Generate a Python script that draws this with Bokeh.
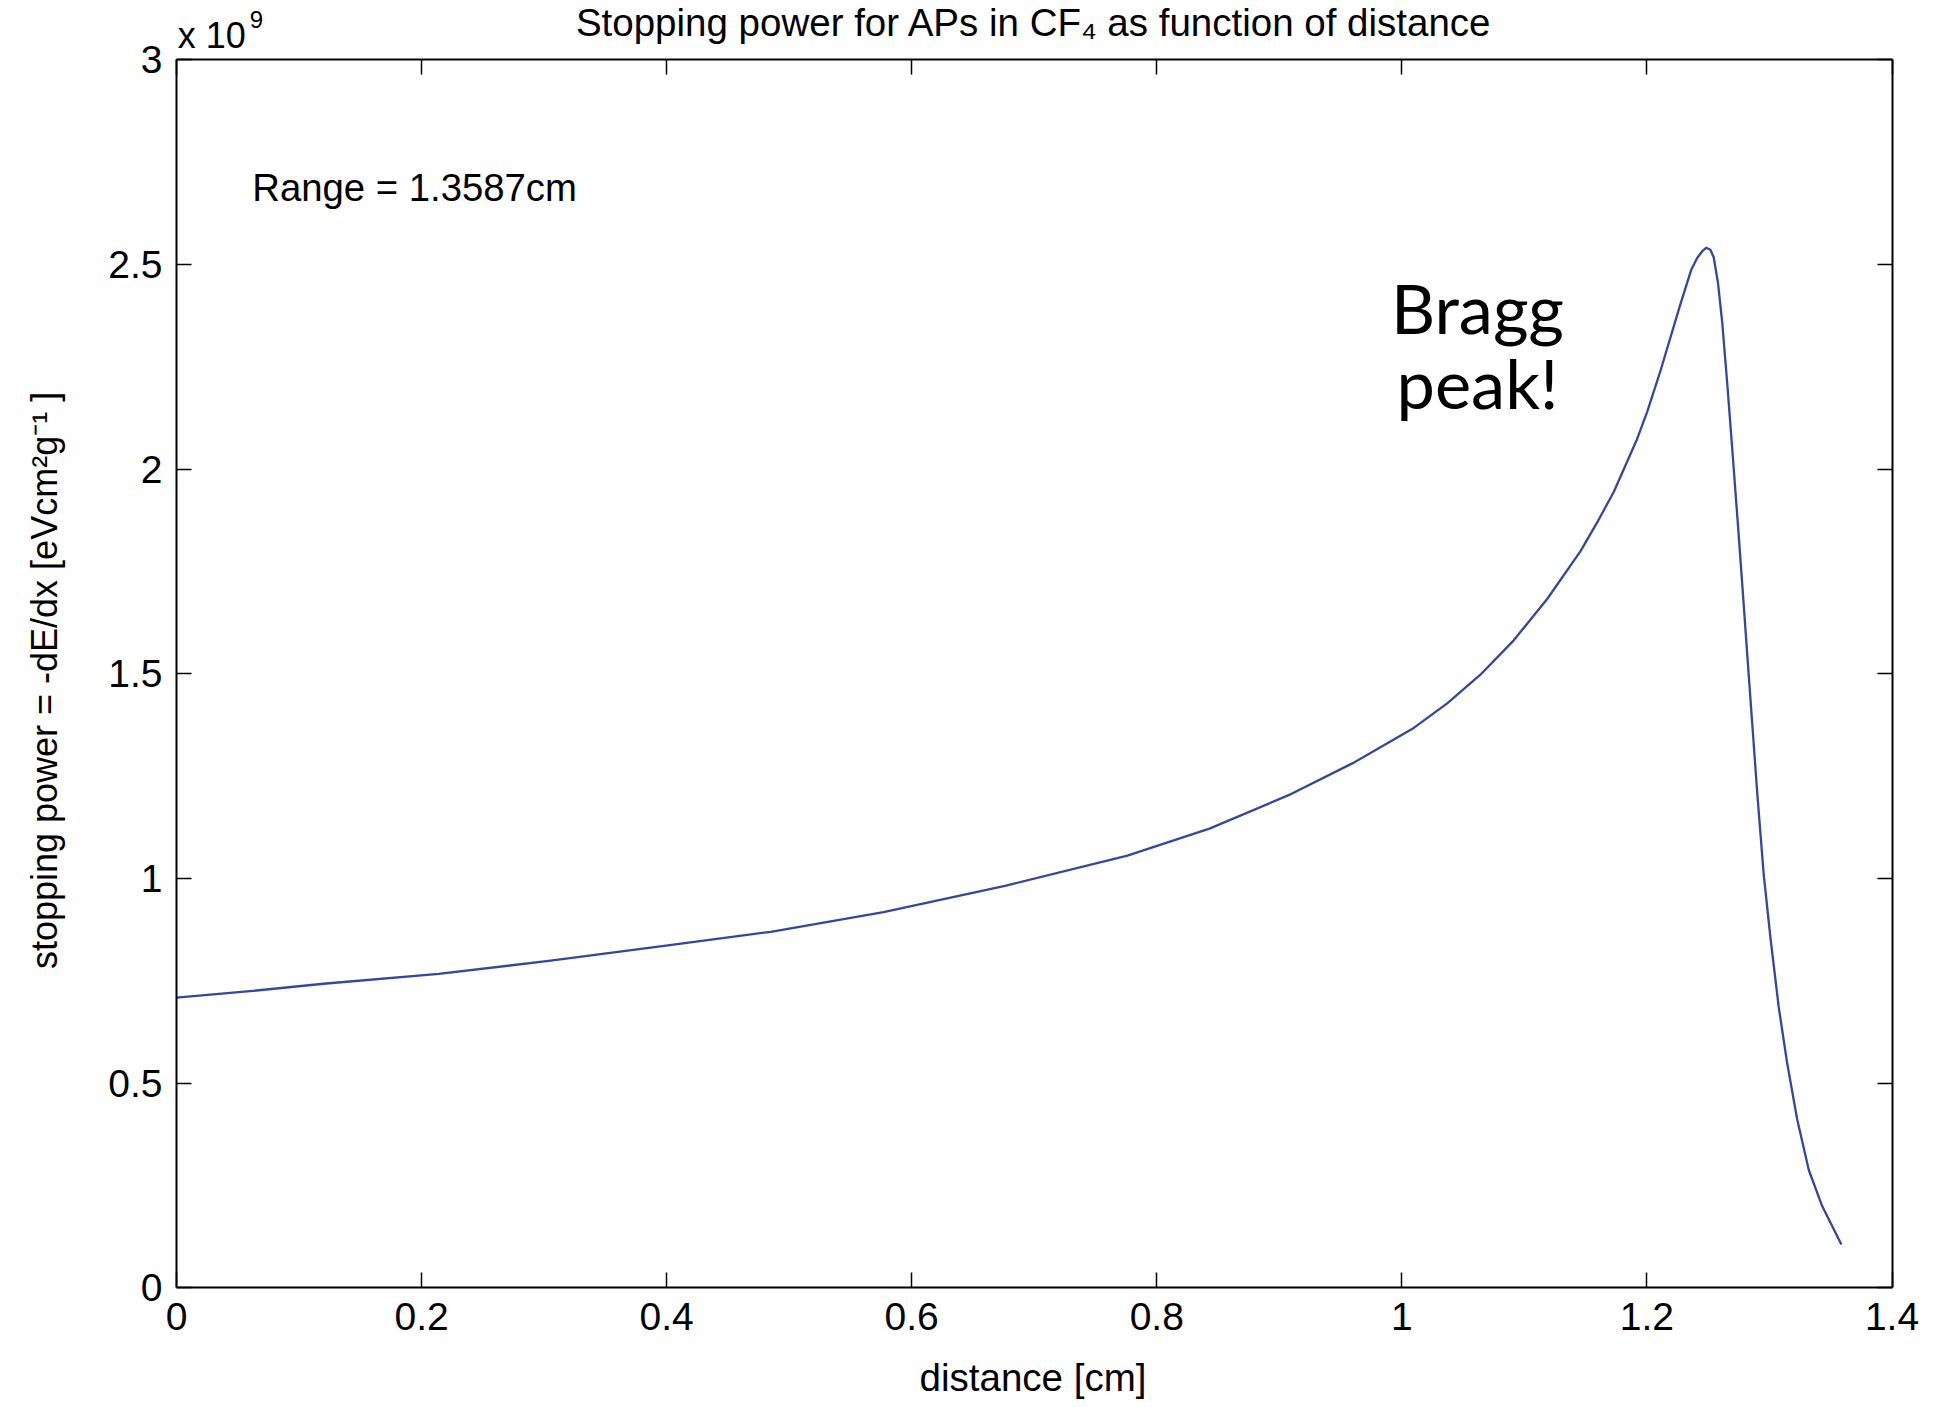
import math
from bokeh.plotting import figure
from bokeh.models import (ColumnDataSource, Label, LinearAxis, FixedTicker,
                          CustomJSTickFormatter, Range1d)
from bokeh.embed import file_html
from bokeh.resources import INLINE

# ---- data ----
distance_cm = [0.000, 0.060, 0.120, 0.214, 0.307, 0.401, 0.485, 0.577, 0.677,
               0.776, 0.843, 0.910, 0.960, 0.9825, 1.0097, 1.0370, 1.0641,
               1.0913, 1.1186, 1.1458, 1.1594, 1.1730, 1.1920, 1.2002, 1.2110,
               1.2274, 1.2360, 1.2410, 1.2450, 1.2483, 1.2518, 1.2545, 1.2580,
               1.2614, 1.2654, 1.2695, 1.2740, 1.2780, 1.2818, 1.2859, 1.2900,
               1.2953, 1.3008, 1.3076, 1.3144, 1.3226, 1.3321, 1.3430, 1.3587]
stopping_power_e9 = [0.709, 0.725, 0.743, 0.767, 0.800, 0.837, 0.870, 0.918, 0.983,
                     1.056, 1.122, 1.207, 1.282, 1.321, 1.368, 1.428, 1.498,
                     1.582, 1.683, 1.800, 1.870, 1.945, 2.074, 2.140, 2.240,
                     2.404, 2.486, 2.516, 2.532, 2.541, 2.536, 2.518, 2.455,
                     2.360, 2.215, 2.055, 1.875, 1.710, 1.550, 1.380, 1.210,
                     1.010, 0.855, 0.685, 0.550, 0.412, 0.288, 0.200, 0.106]
x_ticks = [0, 0.2, 0.4, 0.6, 0.8, 1, 1.2, 1.4]
y_ticks = [0, 0.5, 1, 1.5, 2, 2.5, 3]

title_text = "Stopping power for APs in CF\u2084 as function of distance"
range_text = "Range = 1.3587cm"
x_label = "distance [cm]"
y_label = "stopping power = -dE/dx [eVcm\u00b2g\u207b\u00b9 ]"

FONT = "Liberation Sans"
FS = "39px"

# canvas 1935x1405; the data box [0,1.4]x[0,3] sits at px [176,1891.5]x[59.4,1287.4]
W, H = 1935, 1405
PX_X = 1715.5 / 1.4
PX_Y = 1228.0 / 3.0
x_rng = Range1d(-176 / PX_X, (W - 176) / PX_X)
y_rng = Range1d(-(H - 1287.4) / PX_Y, 3 + 59.4 / PX_Y)

p = figure(width=W, height=H, output_backend="svg", toolbar_location=None,
           title=None, x_range=x_rng, y_range=y_rng, x_axis_location=None,
           y_axis_location=None, min_border=0)
p.background_fill_color = "white"
p.border_fill_color = "white"
p.outline_line_color = None
p.grid.visible = False

src = ColumnDataSource(dict(x=distance_cm, y=stopping_power_e9))
p.line("x", "y", source=src, line_color="#34489a", line_width=2.3,
       line_join="round")

fmt = CustomJSTickFormatter(code="return tick.toString();")
blank = CustomJSTickFormatter(code="return '';")


def make_axis(side, ticks, bounds, loc, labels):
    ax = LinearAxis(fixed_location=loc, bounds=bounds)
    ax.ticker = FixedTicker(ticks=ticks, minor_ticks=[])
    ax.formatter = fmt if labels else blank
    ax.major_tick_in = 15
    ax.major_tick_out = 0
    ax.minor_tick_in = 0
    ax.minor_tick_out = 0
    ax.axis_line_color = "black"
    ax.axis_line_width = 2
    ax.major_tick_line_color = "black"
    ax.major_tick_line_width = 1.5
    ax.major_label_text_font = FONT
    ax.major_label_text_font_size = FS if labels else "0px"
    ax.major_label_text_color = "black"
    ax.major_label_standoff = (15 if side == "below" else 14) if labels else 0
    p.add_layout(ax, side)
    return ax


make_axis("below", x_ticks, (0, 1.4), 0, True)
make_axis("left", y_ticks, (0, 3), 0, True)
make_axis("above", x_ticks, (0, 1.4), 3, False)
make_axis("right", y_ticks, (0, 3), 1.4, False)


def label(x, y, text, size, font=FONT, align="left", **kw):
    p.add_layout(Label(x=x, y=y, text=text, text_font=font, text_font_size=size,
                       text_align=align, text_baseline="alphabetic",
                       text_color="black", **kw))


# ---- texts ----
label(0.7, 3.091, title_text, "38.5px", align="center")
label(0.001, 3.0597, "x 10", "36px")
label(0.001, 3.0597, "9", "24px", x_offset=72, y_offset=16)
label(0.0618, 2.688, range_text, "38.3px")
label(1.0617, 2.396, "Bragg", "68.5px", font="Lato", align="center")
label(1.0617, 2.213, "peak!", "68.5px", font="Lato", align="center")
label(0.699, -0.219, x_label, "38.5px", align="center")
label(-0.1077, 1.4839, y_label, "36px", align="center", angle=math.pi / 2)

open("out.html", "w").write(file_html(p, INLINE))
